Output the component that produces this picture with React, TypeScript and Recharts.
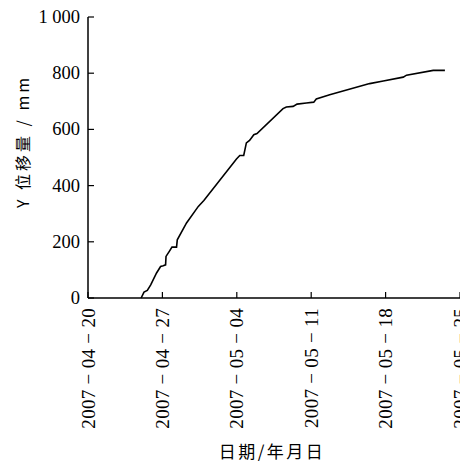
import { LineChart, Line, XAxis, YAxis, Label } from 'recharts'

// days counted from 2007-04-20
const dayTicks = [0, 7, 14, 21, 28, 35]
const dayLabels = [
  '2007 − 04 − 20',
  '2007 − 04 − 27',
  '2007 − 05 − 04',
  '2007 − 05 − 11',
  '2007 − 05 − 18',
  '2007 − 05 − 25',
]
const yTicks = [0, 200, 400, 600, 800, 1000]

// Y displacement (mm) against elapsed days
const days = [
  5.0, 5.27, 5.58, 5.9, 6.45, 6.83, 7.08, 7.3, 7.34, 7.65, 7.9, 8.33, 8.4, 9.27,
  10.38, 10.9, 13.97, 14.28, 14.65, 14.9, 15.2, 15.6, 15.9, 18.35, 18.66, 19.3,
  19.67, 20.55, 21.24, 21.48, 22.74, 26.5, 27.78, 29.66, 29.97, 32.48, 33.58,
]
const disp = [
  0, 21, 27, 47, 89, 112, 115, 118, 148, 166, 181, 181, 207, 267,
  326, 347, 495, 507, 507, 552, 561, 581, 585, 674, 680, 682,
  690, 694, 697, 708, 723, 763, 772, 786, 793, 810, 810,
]

const data = days.map((d, i) => ({ day: d, y: disp[i] }))

const SERIF = "'Liberation Serif', 'Times New Roman', Times, serif"
const SANS = "'Noto Sans CJK SC', 'Noto Sans', sans-serif"

// tick mark drawn inside the plot, date label rotated to read upwards
function XTick({ x, y, payload }: any) {
  const label = dayLabels[dayTicks.indexOf(payload.value)]
  const ty = y + 10
  return (
    <g>
      <line x1={x} y1={y} x2={x} y2={y - 6} stroke="#000" strokeWidth={1.2} />
      <text
        x={x}
        y={ty}
        transform={`rotate(-90 ${x} ${ty})`}
        textAnchor="end"
        dominantBaseline="central"
        style={{ fontFamily: SERIF, fontSize: 19, letterSpacing: 0.3 }}
        fill="#000"
      >
        {label}
      </text>
    </g>
  )
}

function YTick({ x, y, payload }: any) {
  const v = payload.value as number
  const text = v >= 1000 ? `${Math.floor(v / 1000)} ${String(v % 1000).padStart(3, '0')}` : String(v)
  return (
    <g>
      <line x1={x} y1={y} x2={x + 6} y2={y} stroke="#000" strokeWidth={1.2} />
      <text
        x={x - 8}
        y={y}
        textAnchor="end"
        dominantBaseline="central"
        style={{ fontFamily: SERIF, fontSize: 18.5 }}
        fill="#000"
      >
        {text}
      </text>
    </g>
  )
}

export default function App() {
  return (
    <div style={{ position: 'absolute', left: 0, top: 0, background: '#fff' }}>
      <LineChart width={460} height={461} data={data} margin={{ top: 17, right: 0, bottom: 0, left: 0 }}>
        <XAxis
          dataKey="day"
          type="number"
          domain={[0, 35]}
          ticks={dayTicks}
          height={163}
          tickSize={0}
          tickMargin={0}
          tickLine={false}
          tick={<XTick />}
          axisLine={{ stroke: '#000', strokeWidth: 1.5 }}
          interval={0}
        >
          <Label
            content={({ viewBox }: any) => (
              <text
                x={viewBox.x + viewBox.width / 2 - 2}
                y={viewBox.y + 152}
                textAnchor="middle"
                dominantBaseline="central"
                style={{ fontFamily: SANS, fontSize: 17, letterSpacing: 2.5 }}
                fill="#000"
              >
                日期/年月日
              </text>
            )}
          />
        </XAxis>
        <YAxis
          type="number"
          domain={[0, 1000]}
          ticks={yTicks}
          width={88}
          tickSize={0}
          tickMargin={0}
          tickLine={false}
          tick={<YTick />}
          axisLine={{ stroke: '#000', strokeWidth: 1.5 }}
          interval={0}
        >
          <Label
            content={({ viewBox }: any) => {
              const cx = 22
              const cy = viewBox.y + viewBox.height / 2 - 16
              return (
                <text
                  x={cx}
                  y={cy}
                  transform={`rotate(-90 ${cx} ${cy})`}
                  textAnchor="middle"
                  dominantBaseline="central"
                  style={{ fontFamily: SANS, fontSize: 16, letterSpacing: 3 }}
                  fill="#000"
                >
                  Y 位移量 / mm
                </text>
              )
            }}
          />
        </YAxis>
        <Line
          type="linear"
          dataKey="y"
          stroke="#000"
          strokeWidth={1.6}
          dot={false}
          isAnimationActive={false}
        />
      </LineChart>
    </div>
  )
}
